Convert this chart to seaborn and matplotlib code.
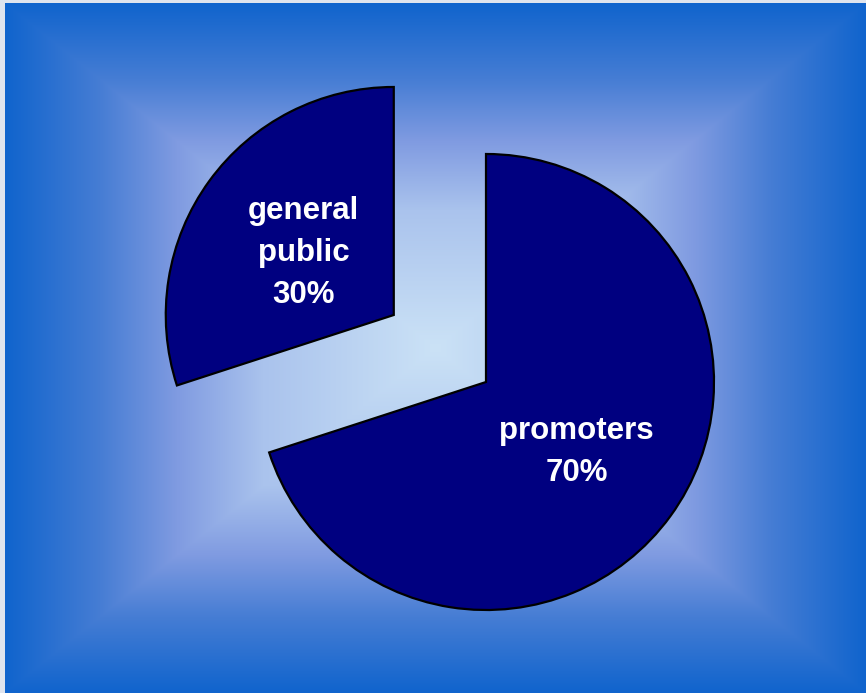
import numpy as np
import matplotlib
matplotlib.use("Agg")
import matplotlib.pyplot as plt
import matplotlib.transforms as mtransforms
import seaborn as sns

# data
categories = ["promoters", "general public"]
values = [70, 30]
explode = [0.0, 0.5]

sns.set_theme(style="white")
plt.rcParams["font.family"] = ["Liberation Sans", "DejaVu Sans"]

W, H = 866, 693
fig = plt.figure(figsize=(W / 100, H / 100), dpi=100)
fig.patch.set_facecolor("#dfe4ee")

# rectangular "from center" gradient background
bx0, by0 = 5, 0
bw, bh = W - 5, H - 3
bg = fig.add_axes([bx0 / W, by0 / H, bw / W, bh / H])
xs = np.linspace(-1, 1, bw)
ys = np.linspace(-1, 1, bh)
X, Y = np.meshgrid(xs, ys)
t = 1 - np.maximum(np.abs(X), np.abs(Y))
stops_t = [0.0, 0.22, 0.4, 0.6, 1.0]
stops_c = np.array([
    [16, 100, 205],
    [70, 125, 212],
    [128, 155, 225],
    [170, 195, 237],
    [203, 226, 246],
]) / 255.0
img = np.zeros((bh, bw, 3))
for k in range(3):
    img[..., k] = np.interp(t, stops_t, stops_c[:, k])
bg.imshow(img, aspect="auto", interpolation="bilinear")
bg.set_axis_off()

# pie
R = 228
ax = fig.add_axes([0, 0, 1, 1])
ax.patch.set_alpha(0)
labels = [f"{c.replace(' ', chr(10))}\n{v}%" for c, v in zip(categories, values)]
wedges, texts = ax.pie(
    values,
    labels=labels,
    explode=[e * R for e in explode],
    startangle=90,
    counterclock=False,
    radius=R,
    center=(486, H - 382),
    labeldistance=0.49,
    colors=["#000080", "#000080"],
    wedgeprops=dict(edgecolor="black", linewidth=1.6),
    textprops=dict(color="white", fontsize=22.5, fontweight="bold", linespacing=1.52),
)
shift = mtransforms.offset_copy(ax.transData, fig=fig, x=0, y=-4, units="dots")
for tx in texts:
    tx.set_ha("center")
    tx.set_va("center")
    tx.set_multialignment("center")
    tx.set_transform(shift)
ax.set_xlim(0, W)
ax.set_ylim(0, H)
ax.set_aspect("auto")
ax.set_axis_off()

fig.savefig("out.png", dpi=100)
